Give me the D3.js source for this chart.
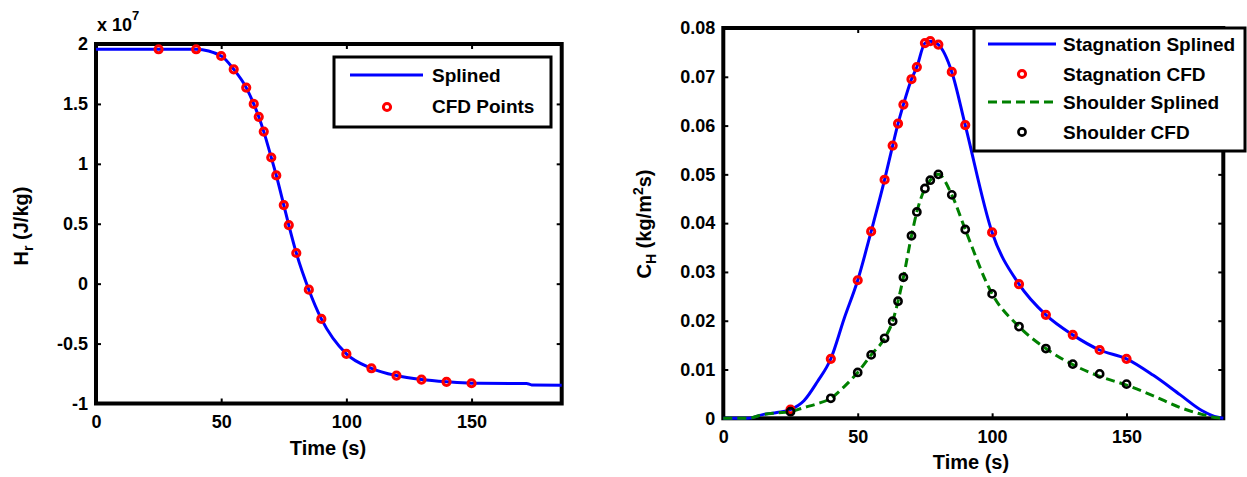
<!DOCTYPE html>
<html>
<head>
<meta charset="utf-8">
<script src="https://cdn.jsdelivr.net/npm/d3@7"></script>
<style>
  html, body { margin: 0; padding: 0; background: #fff; }
  svg { display: block; }
  text { font-family: "Liberation Sans", Arial, Helvetica, sans-serif; font-weight: bold; fill: #000; }
</style>
</head>
<body>
<svg id="chart" width="1247" height="477"></svg>
<script>
// ---- Recovery enthalpy H_r (units of 1e7 J/kg) ----
const hrTime = [25, 40, 50, 55, 60, 63, 65, 67, 70, 72, 75, 77, 80, 85, 90, 100, 110, 120, 130, 140, 150];
const hrCFD  = [1.956, 1.956, 1.90, 1.789, 1.636, 1.50, 1.392, 1.269, 1.053, 0.903, 0.656, 0.489, 0.256, -0.05, -0.294, -0.586, -0.706, -0.767, -0.80, -0.819, -0.831];
const hrSplineTime = [0, 25, 40, 50, 55, 60, 63, 65, 67, 70, 72, 75, 77, 80, 85, 90, 100, 110, 120, 130, 140, 150, 172, 174, 186];
const hrSplineVal  = [1.956, 1.956, 1.956, 1.90, 1.789, 1.636, 1.50, 1.392, 1.269, 1.053, 0.903, 0.656, 0.489, 0.256, -0.05, -0.294, -0.586, -0.706, -0.767, -0.80, -0.819, -0.831, -0.833, -0.845, -0.847];

// ---- Heat transfer coefficient C_H (kg/m^2 s) ----
const chTime = [25, 40, 50, 55, 60, 63, 65, 67, 70, 72, 75, 77, 80, 85, 90, 100, 110, 120, 130, 140, 150];
const stagCFD = [0.0018, 0.0122, 0.0283, 0.0383, 0.0489, 0.0559, 0.0604, 0.0643, 0.0695, 0.0720, 0.0769, 0.0773, 0.0766, 0.0710, 0.0601, 0.0381, 0.0275, 0.0212, 0.0171, 0.0140, 0.0122];
const shoulderCFD = [0.00135, 0.0041, 0.0094, 0.0130, 0.0164, 0.0199, 0.0240, 0.0289, 0.0374, 0.0423, 0.0471, 0.0488, 0.0500, 0.0458, 0.0387, 0.0255, 0.0188, 0.0143, 0.0111, 0.0091, 0.0070];

const chSplineTime = [0, 9, 15, 20, 25, 30, 35, 40, 45, 50, 55, 60, 63, 65, 67, 70, 72, 75, 77, 80, 85, 90, 100, 110, 120, 130, 140, 150, 160, 170, 178, 184, 186];
const stagSplineVal = [0, 0, 0.0008, 0.0012, 0.0018, 0.0036, 0.0075, 0.0122, 0.0205, 0.0283, 0.0383, 0.0489, 0.0559, 0.0604, 0.0643, 0.0695, 0.0720, 0.0769, 0.0773, 0.0766, 0.0710, 0.0601, 0.0381, 0.0275, 0.0212, 0.0171, 0.0140, 0.0122, 0.0088, 0.0048, 0.0016, 0.0002, 0];
const shoulderSplineVal = [0, 0, 0.0008, 0.0011, 0.00135, 0.0022, 0.0030, 0.0041, 0.0065, 0.0094, 0.0130, 0.0164, 0.0199, 0.0240, 0.0289, 0.0374, 0.0423, 0.0471, 0.0488, 0.0500, 0.0458, 0.0387, 0.0255, 0.0188, 0.0143, 0.0110, 0.0086, 0.0068, 0.0046, 0.0022, 0.0008, 0.0001, 0];

const timeTicks = [0, 50, 100, 150];
const hrTicks = [-1, -0.5, 0, 0.5, 1, 1.5, 2];
const hrTickLabels = ["-1", "-0.5", "0", "0.5", "1", "1.5", "2"];
const chTicks = [0, 0.01, 0.02, 0.03, 0.04, 0.05, 0.06, 0.07, 0.08];
const chTickLabels = ["0", "0.01", "0.02", "0.03", "0.04", "0.05", "0.06", "0.07", "0.08"];

const svg = d3.select("#chart");
const zip = (xs, ys) => xs.map((x, i) => [x, ys[i]]);

const BLUE = "#0000ff", RED = "#ff0000", GREEN = "#008000";

function panel(box, yDomain, yTicks, yLabels) {
  const x = d3.scaleLinear().domain([0, 186]).range([box.x0, box.x1]);
  const y = d3.scaleLinear().domain(yDomain).range([box.y1, box.y0]);
  const g = svg.append("g");

  // inward ticks on all four sides
  const tick = 5;
  g.append("g").attr("transform", `translate(0,${box.y1})`)
    .call(d3.axisBottom(x).tickValues(timeTicks).tickSize(-tick).tickPadding(12).tickFormat(d => String(d)));
  g.append("g").attr("transform", `translate(0,${box.y0})`)
    .call(d3.axisTop(x).tickValues(timeTicks).tickSize(-tick).tickFormat(""));
  g.append("g").attr("transform", `translate(${box.x0},0)`)
    .call(d3.axisLeft(y).tickValues(yTicks).tickSize(-tick).tickPadding(8)
      .tickFormat((d, i) => yLabels[i]));
  g.append("g").attr("transform", `translate(${box.x1},0)`)
    .call(d3.axisRight(y).tickValues(yTicks).tickSize(-tick).tickFormat(""));
  g.selectAll(".domain").remove();
  g.selectAll(".tick line").attr("stroke", "#000").attr("stroke-width", 2);
  g.selectAll(".tick text").attr("font-size", 18).attr("fill", "#000")
    .attr("font-family", "'Liberation Sans', Arial, sans-serif").attr("font-weight", "bold");

  g.append("rect")
    .attr("x", box.x0).attr("y", box.y0)
    .attr("width", box.x1 - box.x0).attr("height", box.y1 - box.y0)
    .attr("fill", "none").attr("stroke", "#000").attr("stroke-width", 4);

  return { x, y, g };
}

function drawLine(p, pts, color, dash) {
  p.g.append("path")
    .datum(pts)
    .attr("fill", "none")
    .attr("stroke", color)
    .attr("stroke-width", 3)
    .attr("stroke-dasharray", dash || null)
    .attr("d", d3.line().x(d => p.x(d[0])).y(d => p.y(d[1])).curve(d3.curveMonotoneX));
}

function drawMarkers(p, pts, color, sw) {
  p.g.append("g").selectAll("circle").data(pts).join("circle")
    .attr("cx", d => p.x(d[0])).attr("cy", d => p.y(d[1]))
    .attr("r", 3.6).attr("fill", "none")
    .attr("stroke", color).attr("stroke-width", sw);
}

// ---------- Left: H_r ----------
const left = panel({ x0: 96, x1: 561.7, y0: 44, y1: 403.5 }, [-1, 2], hrTicks, hrTickLabels);
drawLine(left, zip(hrSplineTime, hrSplineVal), BLUE);
drawMarkers(left, zip(hrTime, hrCFD), RED, 3);

// exponent label above the axis
const expo = svg.append("text").attr("x", 97).attr("y", 31).attr("font-size", 18);
expo.append("tspan").text("x 10");
expo.append("tspan").attr("font-size", 13).attr("dy", -11).text("7");

svg.append("text").attr("x", 328).attr("y", 455).attr("text-anchor", "middle")
  .attr("font-size", 20).text("Time (s)");

const hrLabel = svg.append("text")
  .attr("transform", "translate(28,226) rotate(-90)")
  .attr("text-anchor", "middle").attr("font-size", 20);
hrLabel.append("tspan").text("H");
hrLabel.append("tspan").attr("font-size", 14).attr("dy", 5).text("r");
hrLabel.append("tspan").attr("dy", -5).text(" (J/kg)");

// legend
const lg = svg.append("g");
lg.append("rect").attr("x", 334).attr("y", 57).attr("width", 217).attr("height", 70)
  .attr("fill", "#fff").attr("stroke", "#000").attr("stroke-width", 3);
lg.append("line").attr("x1", 350).attr("x2", 423).attr("y1", 75).attr("y2", 75)
  .attr("stroke", BLUE).attr("stroke-width", 3);
lg.append("text").attr("x", 432).attr("y", 82).attr("font-size", 19).text("Splined");
lg.append("circle").attr("cx", 387).attr("cy", 107).attr("r", 3.6)
  .attr("fill", "none").attr("stroke", RED).attr("stroke-width", 3);
lg.append("text").attr("x", 432).attr("y", 113).attr("font-size", 19).text("CFD Points");

// ---------- Right: C_H ----------
const right = panel({ x0: 723.3, x1: 1223.3, y0: 28, y1: 418.3 }, [0, 0.08], chTicks, chTickLabels);
drawLine(right, zip(chSplineTime, stagSplineVal), BLUE);
drawMarkers(right, zip(chTime, stagCFD), RED, 3);
drawLine(right, zip(chSplineTime, shoulderSplineVal), GREEN, "9,5");
drawMarkers(right, zip(chTime, shoulderCFD), "#000", 2.6);

svg.append("text").attr("x", 971).attr("y", 469).attr("text-anchor", "middle")
  .attr("font-size", 20).text("Time (s)");

const chLabel = svg.append("text")
  .attr("transform", "translate(651,224) rotate(-90)")
  .attr("text-anchor", "middle").attr("font-size", 20);
chLabel.append("tspan").text("C");
chLabel.append("tspan").attr("font-size", 14).attr("dy", 5).text("H");
chLabel.append("tspan").attr("dy", -5).text(" (kg/m");
chLabel.append("tspan").attr("font-size", 14).attr("dy", -8).text("2");
chLabel.append("tspan").attr("dy", 8).text("s)");

const rg = svg.append("g");
rg.append("rect").attr("x", 974).attr("y", 28).attr("width", 271).attr("height", 123)
  .attr("fill", "#fff").attr("stroke", "#000").attr("stroke-width", 3);
const rows = [
  { y: 44, type: "line", color: BLUE, dash: null, label: "Stagnation Splined" },
  { y: 74, type: "marker", color: RED, sw: 3, label: "Stagnation CFD" },
  { y: 102, type: "line", color: GREEN, dash: "9,5", label: "Shoulder Splined" },
  { y: 132, type: "marker", color: "#000", sw: 2.6, label: "Shoulder CFD" }
];
rows.forEach(r => {
  if (r.type === "line") {
    rg.append("line").attr("x1", 988).attr("x2", 1056).attr("y1", r.y).attr("y2", r.y)
      .attr("stroke", r.color).attr("stroke-width", 3).attr("stroke-dasharray", r.dash);
  } else {
    rg.append("circle").attr("cx", 1022).attr("cy", r.y).attr("r", 3.6)
      .attr("fill", "none").attr("stroke", r.color).attr("stroke-width", r.sw);
  }
  rg.append("text").attr("x", 1063).attr("y", r.y + 7).attr("font-size", 19).text(r.label);
});
</script>
</body>
</html>
